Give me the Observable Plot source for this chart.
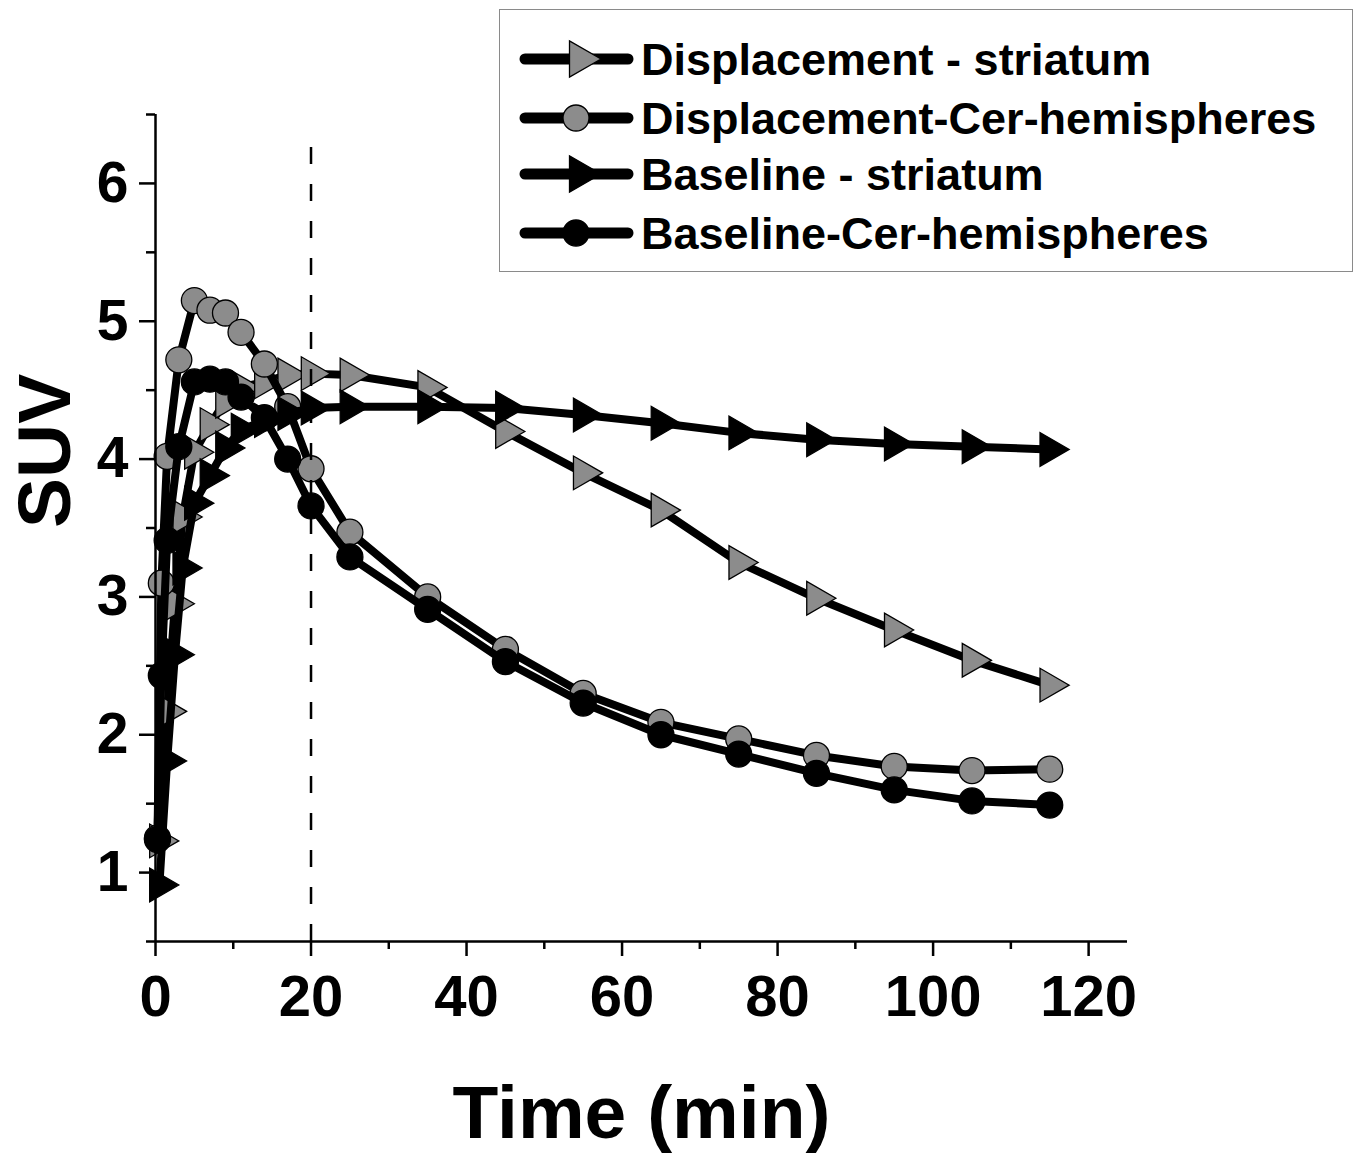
<!DOCTYPE html>
<html><head><meta charset="utf-8">
<script src="https://cdn.jsdelivr.net/npm/d3@7"></script>
<script src="https://cdn.jsdelivr.net/npm/@observablehq/plot@0.6"></script>
<style>
body{margin:0;background:#fff;font-family:"Liberation Sans",Arial,sans-serif;}
#wrap{position:relative;width:1361px;height:1153px;}
#legend{position:absolute;left:499px;top:9px;width:854px;height:263px;border:1.5px solid #8a8a8a;box-sizing:border-box;background:#fff;}
</style></head><body><div id="wrap"><div id="chart"></div><div id="legend"></div></div>
<script>
// ---- data ----
const timeStriatum = [0.5,1.5,2.5,3.5,5,7,9,11,14,17,20,25,35,45,55,65,75,85,95,105,115];
const timeCer      = [0.25,0.75,1.5,3,5,7,9,11,14,17,20,25,35,45,55,65,75,85,95,105,115];
const dispStriatum = [1.23,2.17,2.95,3.58,4.05,4.25,4.42,4.52,4.56,4.61,4.62,4.61,4.52,4.20,3.90,3.63,3.25,2.99,2.76,2.54,2.36];
const dispCer      = [1.25,3.10,4.02,4.72,5.15,5.08,5.06,4.92,4.69,4.38,3.93,3.47,3.00,2.62,2.30,2.09,1.97,1.85,1.77,1.74,1.75];
const baseStriatum = [0.91,1.81,2.58,3.21,3.68,3.88,4.08,4.21,4.28,4.33,4.37,4.38,4.38,4.37,4.32,4.26,4.19,4.14,4.11,4.09,4.07];
const baseCer      = [1.24,2.43,3.41,4.09,4.56,4.58,4.56,4.45,4.30,4.00,3.66,3.29,2.91,2.53,2.23,2.00,1.86,1.72,1.60,1.52,1.49];
const seriesNames  = ["Displacement - striatum","Displacement-Cer-hemispheres","Baseline - striatum","Baseline-Cer-hemispheres"];
const xMajorTicks = [0,20,40,60,80,100,120];
const xMinorTicks = [10,30,50,70,90,110];
const yMajorTicks = [1,2,3,4,5,6];
const yMinorTicks = [0.5,1.5,2.5,3.5,4.5,5.5,6.5];
const markerTime = 20;          // dashed line
const markerTop = 6.26;
const xDomain = [0,125];
const yDomain = [0.5,6.5];

const GRAY = "#8c8c8c";
const series = [
  {name:seriesNames[0], t:timeStriatum, v:dispStriatum, symbol:"triangle", fill:GRAY},
  {name:seriesNames[1], t:timeCer,      v:dispCer,      symbol:"circle",   fill:GRAY},
  {name:seriesNames[2], t:timeStriatum, v:baseStriatum, symbol:"triangle", fill:"black"},
  {name:seriesNames[3], t:timeCer,      v:baseCer,      symbol:"circle",   fill:"black"}
];
const rTri = 12.5, rCirc = 13;

const marks = [];
for (const s of series) {
  const data = s.t.map((t,i)=>({t, v:s.v[i]}));
  marks.push(Plot.line(data,{x:"t",y:"v",stroke:"black",strokeWidth:8,strokeLinejoin:"round",strokeLinecap:"round"}));
  marks.push(Plot.dot(data,{x:"t",y:"v",symbol:s.symbol,r:s.symbol==="triangle"?rTri:rCirc,
    fill:s.fill,stroke:"black",strokeWidth:1.3,rotate:s.symbol==="triangle"?90:0}));
}

const chart = Plot.plot({
  width:1361, height:1153,
  marginLeft:155, marginRight:234, marginTop:114, marginBottom:212,
  style:{fontFamily:"'Liberation Sans', Arial, sans-serif", background:"white", color:"black"},
  x:{domain:xDomain},
  y:{domain:yDomain},
  marks:[
    ...marks,
    Plot.ruleX([markerTime],{y1:yDomain[0],y2:markerTop,stroke:"black",strokeWidth:2.5,strokeDasharray:"17,20"}),
    Plot.ruleX([xDomain[0]],{stroke:"black",strokeWidth:2.5}),
    Plot.ruleY([yDomain[0]],{stroke:"black",strokeWidth:2.5}),
    Plot.axisX({ticks:xMajorTicks,tickFormat:d=>String(d),tickSize:15,tickPadding:18,fontSize:58,fontWeight:"bold",strokeWidth:2.5,label:null}),
    Plot.axisX({ticks:xMinorTicks,tickSize:8,text:null,strokeWidth:2.5,label:null}),
    Plot.axisY({ticks:yMajorTicks,tickFormat:d=>String(d),tickSize:16,tickPadding:11,fontSize:57,fontWeight:"bold",strokeWidth:2.5,label:null}),
    Plot.axisY({ticks:yMinorTicks,tickSize:9,text:null,strokeWidth:2.5,label:null}),
    Plot.text(["Time (min)"],{frameAnchor:"bottom",dy:196,lineAnchor:"bottom",fontSize:75,fontWeight:"bold"}),
    Plot.text(["SUV"],{frameAnchor:"left",dx:-110,rotate:-90,fontSize:75,fontWeight:"bold"})
  ]
});
document.getElementById("chart").appendChild(chart);

// ---- legend (HTML overlay with SVG swatches) ----
const ns = "http://www.w3.org/2000/svg";
const lg = document.createElementNS(ns,"svg");
lg.setAttribute("width",851); lg.setAttribute("height",260);
const rowY = [49,108,164,223];
series.forEach((s,i)=>{
  const y = rowY[i];
  const ln = document.createElementNS(ns,"line");
  ln.setAttribute("x1",25); ln.setAttribute("x2",128); ln.setAttribute("y1",y); ln.setAttribute("y2",y);
  ln.setAttribute("stroke","black"); ln.setAttribute("stroke-width",11); ln.setAttribute("stroke-linecap","round");
  lg.appendChild(ln);
  const p = document.createElementNS(ns,"path");
  const r = s.symbol==="triangle"?13.5:13;
  const sym = s.symbol==="triangle"?d3.symbolTriangle:d3.symbolCircle;
  p.setAttribute("d",d3.symbol(sym,Math.PI*r*r)());
  p.setAttribute("transform",`translate(${s.symbol==="triangle"?80:76},${y}) rotate(${s.symbol==="triangle"?90:0})`);
  p.setAttribute("fill",s.fill); p.setAttribute("stroke","black"); p.setAttribute("stroke-width",1.3);
  lg.appendChild(p);
  const tx = document.createElementNS(ns,"text");
  tx.setAttribute("x",141); tx.setAttribute("y",y); tx.setAttribute("dy","0.36em");
  tx.setAttribute("font-size",45); tx.setAttribute("font-weight","bold");
  tx.setAttribute("font-family","'Liberation Sans', Arial, sans-serif");
  tx.textContent = s.name;
  lg.appendChild(tx);
});
document.getElementById("legend").appendChild(lg);
</script>
</body></html>
